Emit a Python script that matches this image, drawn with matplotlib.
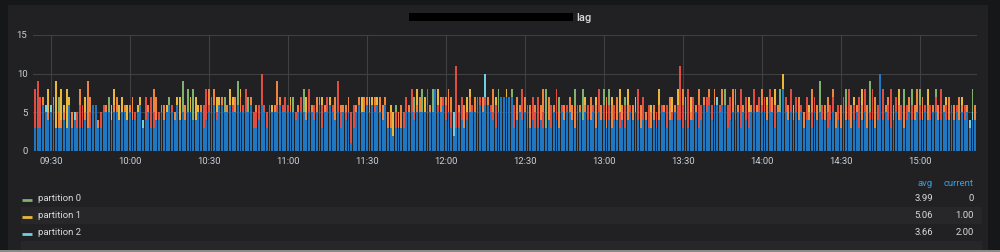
import matplotlib
matplotlib.use("Agg")
import matplotlib.pyplot as plt
from matplotlib.patches import Rectangle
import numpy as np

# ---------------- data (lag per partition, one bar per minute from 09:23) ----------------
start_minute = 563  # 09:23

blue = (
    [3,3,3,3,6,5,4] +
    [5,4,3,3,3,4,3,6,3,4, 3,3,3,4,3,3,6,6,3,3, 5,5,5,4,5,5,4,5,5,4] +
    [5,4,4,5,6,3,4,5,3,3, 4,4,5,4,5,6,5,4,6,4, 5,4,5,5,4,4,5,5,3,4] +
    [5,5,6,4,6,6,5,5,6,5, 5,6,5,5,5,5,6,3,3,4, 6,5,3,5,5,5,5,6,5,5] +
    [5,5,5,4,5,5,5,4,5,5, 4,5,6,3,5,5,6,5,4,5, 3,5,4,5,1,3,5,6,5,5] +
    [6,5,6,5,6,5,4,6,3,3, 2,3,3,3,3,5,5,5,4,5, 5,5,5,6,5,5,8,5,5,6] +
    [4,5,3,2,3,3,4,3,4,5, 5,5,5,6,5,6,6,5,4,3, 5,7,7,7,7,7,3,4,5,4] +
    [5,3,3,4,3,3,4,3,3,4, 3,5,4,3,5,4,5,5,4,3, 4,5,4,5,4,4,5,3,5,4] +
    [4,3,4,3,4,4,3,4,3,4, 5,4,5,4,3,4,4,3,3,4, 3,4,5,5,3,4,4,5,4,4] +
    [3,4,3,4,4,5,3,4,6,5, 6,4,6,6,5,6,6,3,4,5, 4,5,3,5,4,3,5,5,5,5] +
    [5,5,4,5,5,3,5,5,8,5, 4,5,4,5,4,5,3,4,4,3, 5,4,5,4,4,3,4,5,3,4] +
    [3,5,4,4,3,4,5,3,4,5, 3,4,4,3,4,10,4,5,4,3, 4,5,4,4,3,4,5,4,4,5] +
    [4,4,5,4,4,5,5,4,4,5, 4,4,5,4,5,4,5,4,5,3, 4,4]
)

red = (
    [0,8,9,7,0,0,0] +
    [0,6,0,0,0,0,0,0,0,0, 5,6,6,0,0,5,0,0,0,5, 6,0,0,0,0,0,0,0,0,0] +
    [0,0,5,0,0,0,7,0,7,5, 0,5,0,0,0,0,6,0,0,0, 0,0,0,0,0,0,0,0,6,8] +
    [6,7,0,5,0,0,0,0,0,6, 0,0,0,6,8,0,0,5,5,6, 10,6,5,6,0,0,6,0,6,7] +
    [6,0,0,5,0,7,0,0,8,0, 6,0,0,6,0,7,0,6,0,9, 5,0,5,0,5,6,0,0,0,0] +
    [0,0,0,6,0,0,0,0,0,0, 0,5,0,0,5,7,0,8,5,0, 0,0,0,8,0,0,0,6,0,7] +
    [6,0,5,0,11,5,7,0,5,0, 6,0,7,7,0,7,0,6,5,6, 0,0,0,0,0,0,6,0,0,8] +
    [0,6,0,7,5,7,0,5,0,0, 6,0,8,0,6,0,6,0,0,0, 6,0,0,0,6,0,6,0,8,0] +
    [6,0,6,0,6,0,5,0,6,0, 6,0,0,8,0,7,0,6,0,0, 5,0,6,0,6,0,5,0,6,11] +
    [6,0,8,0,7,0,6,6,0,7, 7,6,0,0,6,0,0,6,7,0, 6,0,8,0,7,5,0,8,0,7] +
    [6,7,0,8,0,6,0,0,0,7, 0,8,0,7,0,6,0,7,0,5, 7,0,0,6,0,5,6,7,0,6] +
    [0,7,0,8,0,6,0,7,0,8, 0,5,8,0,6,0,8,0,6,8, 0,7,0,6,0,6,0,6,0,0] +
    [6,0,6,0,6,0,7,0,8,0, 6,0,6,0,6,0,0,6,0,0, 0,0]
)

orange = (
    [0,0,0,0,7,0,5] +
    [0,0,0,5,4,5,0,0,5,0, 0,8,0,5,9,7,0,0,4,0, 0,6,0,0,6,7,0,0,6,0] +
    [6,7,0,0,0,0,0,6,0,8, 7,0,6,6,0,0,0,5,0,0, 0,6,0,0,0,0,0,6,0,0] +
    [8,0,8,0,0,7,0,6,0,0, 7,0,7,0,0,0,7,0,6,0, 0,0,0,0,0,6,9,7,0,0] +
    [0,6,0,0,6,0,0,5,0,6, 0,7,7,0,6,0,0,0,7,0, 6,6,6,7,0,0,6,7,0,7] +
    [7,6,0,7,0,7,6,7,5,5, 0,0,5,6,0,0,6,0,0,6, 7,0,0,0,6,0,0,0,7,0] +
    [7,8,7,0,0,6,0,6,0,7, 0,7,0,0,7,0,7,0,8,0, 0,0,0,0,0,0,0,7,6,0] +
    [7,0,6,0,6,0,6,8,0,7, 0,6,0,5,0,6,0,7,6,6, 0,6,0,6,0,7,0,6,0,6] +
    [0,7,0,6,0,7,0,6,0,6, 0,6,0,0,6,0,5,0,5,6, 0,6,0,6,0,7,0,6,0,0] +
    [8,7,0,5,0,6,8,0,7,0, 8,0,8,0,0,8,0,0,0,8, 0,6,0,6,0,0,6,0,6,0] +
    [8,0,6,0,7,0,6,0,0,0, 6,0,5,0,7,0,5,0,5,8, 0,6,0,0,6,7,0,8,5,0] +
    [6,0,6,0,6,0,6,0,6,0, 6,0,0,7,0,0,0,6,7,0, 6,0,6,0,6,0,7,0,6,8] +
    [0,7,0,6,0,6,0,6,0,6, 0,7,0,6,0,7,6,0,6,0, 0,6]
)

cyan = (
    [4,0,0,0,0,6,0] +
    [6,0,0,0,0,0,0,0,0,5, 0,0,0,0,0,0,0,0,0,0, 0,0,0,0,0,0,0,0,0,0] +
    [0,0,0,0,0,4,0,0,0,0, 0,0,0,0,0,0,0,0,0,0, 0,0,0,0,0,0,0,0,0,0] +
    [0,0,0,0,0,0,0,0,0,0, 0,0,0,0,0,0,0,0,0,0, 0,0,0,0,0,0,0,0,0,0] +
    [0,0,0,0,0,0,0,0,0,0, 0,0,0,0,0,0,0,0,0,0, 0,0,0,0,0,0,0,0,0,0] +
    [0,0,0,0,0,0,0,0,0,0, 0,0,0,0,0,0,0,0,0,0, 0,0,0,0,0,0,0,0,0,0] +
    [0,0,0,5,0,0,0,0,0,0, 0,0,0,0,0,10,0,0,0,0, 0,0,0,0,0,0,0,0,0,0] +
    [0,0,0,0,0,0,0,0,0,0, 0,0,0,0,0,0,0,0,0,0, 0,0,0,0,0,0,0,0,0,0] +
    [0,0,0,0,0,0,0,0,0,0, 0,0,0,0,0,0,0,0,0,0, 0,0,0,0,0,0,0,0,0,0] +
    [0,0,0,0,0,0,0,0,0,0, 0,0,0,7,0,0,0,0,0,0, 0,0,0,0,0,0,0,0,0,0] +
    [0,0,0,0,0,0,0,0,0,0, 0,0,0,0,0,0,0,0,0,0, 0,0,0,0,0,0,0,0,0,0] +
    [0,0,0,0,0,0,0,0,0,0, 0,0,0,0,0,0,0,0,0,0, 0,0,0,0,0,0,0,0,0,0] +
    [0,0,0,0,0,0,0,0,0,0, 0,0,0,0,0,0,0,0,0,4, 5,0]
)

yellow = (
    [0,0,0,0,0,0,8] +
    [0,0,9,0,8,6,8,7,0,0, 0,0,0,7,0,0,0,0,0,0, 0,0,0,6,8,0,6,7,0,6] +
    [0,0,0,6,7,0,0,0,0,0, 0,0,0,0,6,0,0,0,7,7, 0,0,0,7,0,7,6,0,0,0] +
    [0,0,0,7,7,0,0,0,8,7, 0,0,8,0,0,0,0,0,0,0, 0,0,0,0,6,0,0,0,0,0] +
    [0,7,0,0,0,0,0,7,0,0, 0,0,0,7,0,0,7,0,0,0, 0,0,0,0,0,0,0,0,7,0] +
    [0,7,7,0,7,0,0,0,0,6, 5,0,0,0,0,0,0,0,0,8, 0,0,7,0,0,0,0,8,0,0] +
    [0,0,0,0,0,0,0,0,7,8, 0,0,0,0,0,0,0,0,0,7, 0,0,0,8,0,0,0,0,0,0] +
    [0,0,0,0,0,0,0,0,0,0, 0,0,0,0,0,0,0,0,0,0, 0,0,0,7,0,0,0,7,0,0] +
    [0,0,0,7,0,0,8,0,0,8, 0,0,7,0,0,0,0,0,6,0, 0,8,0,0,0,0,7,0,8,0] +
    [0,0,0,7,0,0,0,0,0,0, 0,0,0,0,0,0,0,0,0,0, 0,0,0,0,0,7,0,0,0,0] +
    [0,0,7,0,0,8,0,0,10,0, 0,0,6,0,0,0,0,0,6,0, 0,0,0,0,0,0,0,0,0,0] +
    [0,0,0,0,0,7,0,0,8,0, 0,0,0,0,0,0,0,0,0,0, 0,0,8,0,0,0,0,0,0,0] +
    [0,0,0,8,0,0,0,0,0,0, 7,0,0,0,0,0,7,0,0,0, 0,0]
)

green = (
    [0,0,0,0,0,0,0] +
    [0,7,0,7,0,0,0,0,0,0, 0,0,0,0,0,0,0,0,0,0, 0,0,7,0,0,0,0,0,0,0] +
    [0,0,0,0,0,0,0,0,0,0, 0,0,0,0,0,7,0,0,0,0, 9,0,8,0,8,0,0,0,0,0] +
    [0,0,0,0,0,0,7,0,0,0, 0,9,0,0,0,7,0,0,0,0, 0,0,0,0,0,0,0,0,0,0] +
    [0,0,7,0,0,0,8,0,0,0, 0,0,0,0,0,0,0,0,0,0, 0,0,0,0,0,0,0,0,0,0] +
    [0,0,0,0,0,0,0,0,0,0, 0,6,0,0,0,0,0,0,7,0, 0,8,0,0,0,8,0,0,0,0] +
    [0,0,0,0,0,0,0,0,0,0, 0,0,0,0,0,0,0,0,0,0, 8,0,0,0,0,8,0,0,0,0] +
    [0,0,0,0,0,0,0,0,8,0, 0,0,0,7,0,0,0,0,0,8, 0,0,8,0,0,0,0,0,0,0] +
    [8,0,8,0,0,0,0,0,7,0, 0,0,0,0,0,0,0,0,0,0, 0,0,0,0,0,0,0,0,0,0] +
    [0,0,0,0,0,0,0,0,0,0, 0,0,0,0,0,0,8,0,0,0, 8,0,0,0,0,0,0,0,0,0] +
    [0,0,0,0,0,0,0,8,0,0, 0,0,0,0,0,0,0,0,0,0, 0,0,9,0,0,0,0,0,0,0] +
    [0,0,8,0,0,0,0,0,0,0, 0,9,0,0,0,0,0,0,0,0, 0,0,0,0,8,0,0,8,0,0] +
    [8,0,0,0,0,0,8,0,0,0, 0,0,0,0,0,0,0,0,0,0, 8,0]
)

tick_minutes = [570, 600, 630, 660, 690, 720, 750, 780, 810, 840, 870, 900]
tick_labels = ["09:30", "10:00", "10:30", "11:00", "11:30", "12:00",
               "12:30", "13:00", "13:30", "14:00", "14:30", "15:00"]
y_ticks = [0, 5, 10, 15]

legend_names = ["partition 0", "partition 1", "partition 2"]
legend_avg = ["3.99", "5.06", "3.66"]
legend_current = ["0", "1.00", "2.00"]

# ---------------- style ----------------
C_GREEN, C_YELLOW, C_CYAN = "#7EB26D", "#EAB839", "#6ED0E0"
C_ORANGE, C_RED, C_BLUE = "#EF843C", "#E24D42", "#1F78C1"
PAGE_BG, PANEL_BG, ROW_BG = "#161719", "#212124", "#27272a"
GRID = "#404043"
TXT = "#c7d0d9"

plt.rcParams["font.family"] = ["Roboto", "DejaVu Sans"]

lens = {k: len(v) for k, v in dict(blue=blue, red=red, orange=orange, cyan=cyan,
                                    yellow=yellow, green=green).items()}
if len(set(lens.values())) != 1:
    raise ValueError(str(lens))

n = len(blue)
x = np.arange(n) + start_minute

W, H = 1000, 252
fig = plt.figure(figsize=(W / 100, H / 100), dpi=100)
fig.patch.set_facecolor(PAGE_BG)


def fx(px):
    return px / W


def fy(py):
    return 1 - py / H


def frect(x0, y0, x1, y1, color, z=0):
    fig.add_artist(Rectangle((fx(x0), fy(y1)), fx(x1) - fx(x0), fy(y0) - fy(y1),
                             transform=fig.transFigure, facecolor=color,
                             edgecolor="none", zorder=z))


# panel
frect(8, 5, 988, 250, PANEL_BG, 0)
frect(0, 250, 1000, 252, "#8a8a8a", 0)

# title (name redacted in source)
frect(409, 13, 573, 21, "#000000", 2)
fig.text(fx(576), fy(21), "lag", color="#d8d9da", fontsize=8, fontweight="medium",
         ha="left", va="baseline", zorder=3)

ax = fig.add_axes([fx(33), fy(151), fx(977) - fx(33), fy(35) - fy(151)])
ax.set_facecolor("none")
ax.set_axisbelow(True)

bw = 0.72
series = [(green, C_GREEN), (yellow, C_YELLOW), (cyan, C_CYAN),
          (orange, C_ORANGE), (red, C_RED), (blue, C_BLUE)]
for vals, col in series:
    ax.bar(x, vals, width=bw, color=col, linewidth=0, align="center")

ax.set_xlim(563.2, 921.7)
ax.set_ylim(0, 15)
ax.set_xticks(tick_minutes)
ax.set_xticklabels(tick_labels)
ax.set_yticks(y_ticks)
ax.set_yticklabels([str(v) for v in y_ticks])
ax.grid(True, color=GRID, linewidth=0.8)
for s in ax.spines.values():
    s.set_visible(False)
ax.tick_params(length=0, colors=TXT, labelsize=6.8)
ax.tick_params(axis="y", pad=4)
ax.tick_params(axis="x", pad=4)

# legend table
row_y = [198.5, 215.5, 232.5]
frect(21, 207, 982, 224, ROW_BG, 0.5)
frect(21, 241, 982, 249.5, ROW_BG, 0.5)
fig.text(fx(933), fy(184), "avg", color="#33a2e5", fontsize=6.8, ha="right", va="center")
fig.text(fx(974), fy(184), "current", color="#33a2e5", fontsize=6.8, ha="right", va="center")
legend_colors = [C_GREEN, C_YELLOW, C_CYAN]
for yy, name, col, av, cur in zip(row_y, legend_names, legend_colors, legend_avg, legend_current):
    fig.add_artist(plt.Line2D([fx(22), fx(31.5)], [fy(yy + 1), fy(yy + 1)],
                              transform=fig.transFigure, color=col, linewidth=2.0,
                              solid_capstyle="butt", zorder=3))
    fig.text(fx(38), fy(yy), name, color="#d8d9da", fontsize=6.8, ha="left", va="center")
    fig.text(fx(933), fy(yy), av, color="#d8d9da", fontsize=6.8, ha="right", va="center")
    fig.text(fx(974), fy(yy), cur, color="#d8d9da", fontsize=6.8, ha="right", va="center")

fig.savefig("out.png", dpi=100, facecolor=fig.get_facecolor())
